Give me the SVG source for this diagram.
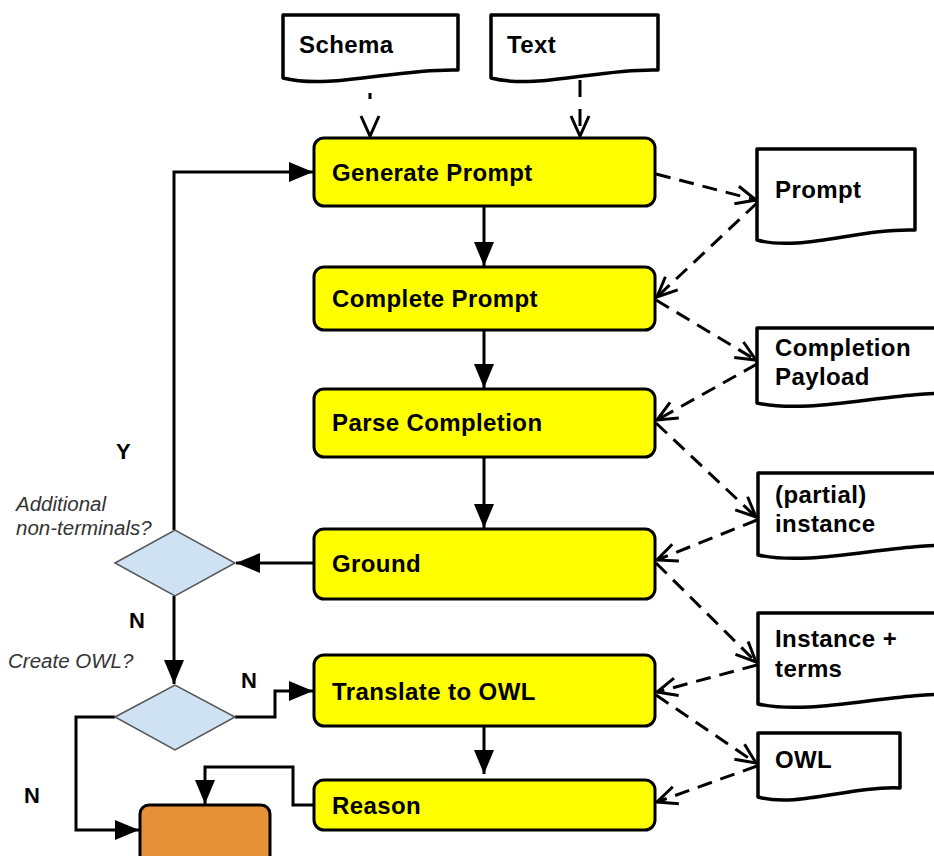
<svg xmlns="http://www.w3.org/2000/svg" width="934" height="856" viewBox="0 0 934 856">
<style>
.box{fill:#ffff00;stroke:#000;stroke-width:3}
.doc{fill:#fff;stroke:#000;stroke-width:3.5;stroke-linejoin:round}
.dia{fill:#cfe2f3;stroke:#555;stroke-width:1.5}
.lbl{font-family:"Liberation Sans",Arial,sans-serif;font-weight:bold;font-size:24px;letter-spacing:0.4px;fill:#000}
.q{font-family:"Liberation Sans",Arial,sans-serif;font-style:italic;font-size:20.5px;fill:#333}
.yn{font-family:"Liberation Sans",Arial,sans-serif;font-weight:bold;font-size:22px;fill:#000}
.solid{fill:none;stroke:#000;stroke-width:3;marker-end:url(#fa)}
.dash{fill:none;stroke:#000;stroke-width:3;stroke-dasharray:15 9;marker-end:url(#oa)}
</style>
<defs>
<marker id="fa" markerUnits="userSpaceOnUse" markerWidth="26" markerHeight="22" viewBox="-24 -10 26 20" refX="0" refY="0" orient="auto">
<path d="M-24,-10 L0,0 L-24,10 Z" fill="#000"/>
</marker>
<marker id="oa" markerUnits="userSpaceOnUse" markerWidth="28" markerHeight="26" viewBox="-24 -12 28 24" refX="0" refY="0" orient="auto">
<path d="M-20,-9 L0,0 L-20,9" fill="none" stroke="#000" stroke-width="3"/>
</marker>
</defs>

<g id="connectors">
<path class="dash" d="M370,93 L370,136" style="stroke-dasharray:6 60"/>
<path class="dash" d="M580,80 L580,136" style="stroke-dasharray:17 12"/>
<path class="solid" d="M484,206 L484,266"/>
<path class="solid" d="M484,330 L484,388"/>
<path class="solid" d="M484,457 L484,528"/>
<path class="solid" d="M484,726 L484,774"/>
<path class="solid" d="M314,563 L236,563"/>
<path class="solid" d="M174,530 L174,172 L313,172"/>
<path class="solid" d="M174,596 L174,684"/>
<path class="solid" d="M235,717 L275,717 L275,691 L313,691"/>
<path class="solid" d="M115,717 L76,717 L76,830 L139,830"/>
<path class="solid" d="M314,805 L293,805 L293,767 L205,767 L205,804"/>
<path class="dash" d="M656,174 L756,200"/>
<path class="dash" d="M757,203 L657,297"/>
<path class="dash" d="M656,300 L756,360"/>
<path class="dash" d="M757,364 L657,420"/>
<path class="dash" d="M656,423 L756,517"/>
<path class="dash" d="M757,520 L657,560"/>
<path class="dash" d="M656,563 L756,662"/>
<path class="dash" d="M757,665 L657,692"/>
<path class="dash" d="M656,695 L756,763"/>
<path class="dash" d="M757,766 L657,802"/>
</g>

<g id="schema">
<path class="doc" d="M283,15 H458 V70 C397,68 330,90 283,78 Z"/>
<text class="lbl" x="299" y="53">Schema</text>
</g>
<g id="text">
<path class="doc" d="M491,15 H658 V70 C600,68 536,90 491,78 Z"/>
<text class="lbl" x="507" y="53">Text</text>
</g>

<g id="generate-prompt">
<rect class="box" x="314" y="138" width="341" height="68" rx="10"/>
<text class="lbl" x="332" y="181">Generate Prompt</text>
</g>
<g id="complete-prompt">
<rect class="box" x="314" y="267" width="341" height="63" rx="10"/>
<text class="lbl" x="332" y="307">Complete Prompt</text>
</g>
<g id="parse-completion">
<rect class="box" x="314" y="389" width="341" height="68" rx="10"/>
<text class="lbl" x="332" y="431">Parse Completion</text>
</g>
<g id="ground">
<rect class="box" x="314" y="529" width="341" height="70" rx="10"/>
<text class="lbl" x="332" y="572">Ground</text>
</g>
<g id="translate">
<rect class="box" x="314" y="655" width="341" height="71" rx="10"/>
<text class="lbl" x="332" y="700">Translate to OWL</text>
</g>
<g id="reason">
<rect class="box" x="314" y="780" width="341" height="50" rx="10"/>
<text class="lbl" x="332" y="814">Reason</text>
</g>

<g id="prompt-doc">
<path class="doc" d="M757,149 H915 V230 C860,228 800,252 757,240 Z"/>
<text class="lbl" x="775" y="198">Prompt</text>
</g>
<g id="completion-payload">
<path class="doc" d="M757,328 H962 V393 C890,391 812,415 757,403 Z"/>
<text class="lbl" x="775" y="356">Completion</text>
<text class="lbl" x="775" y="385">Payload</text>
</g>
<g id="partial-instance">
<path class="doc" d="M758,473 H962 V545 C890,543 813,567 758,555 Z"/>
<text class="lbl" x="775" y="503">(partial)</text>
<text class="lbl" x="775" y="532">instance</text>
</g>
<g id="instance-terms">
<path class="doc" d="M758,613 H962 V694 C890,692 813,716 758,704 Z"/>
<text class="lbl" x="775" y="647">Instance +</text>
<text class="lbl" x="775" y="677">terms</text>
</g>
<g id="owl-doc">
<path class="doc" d="M758,733 H900 V788 C850,786 796,808 758,797 Z"/>
<text class="lbl" x="775" y="768">OWL</text>
</g>

<g id="decision-nonterminals">
<path class="dia" d="M115,563 L175,530 L235,563 L175,596 Z"/>
<text class="q" x="16" y="511">Additional</text>
<text class="q" x="16" y="535">non-terminals?</text>
</g>
<g id="decision-owl">
<path class="dia" d="M115,717 L175,685 L235,717 L175,750 Z"/>
<text class="q" x="8" y="668">Create OWL?</text>
</g>
<g id="end">
<rect x="140" y="805" width="130" height="60" rx="9" fill="#e69138" stroke="#000" stroke-width="3"/>
</g>

<g id="labels">
<text class="yn" x="116" y="459">Y</text>
<text class="yn" x="129" y="628">N</text>
<text class="yn" x="241" y="688">N</text>
<text class="yn" x="24" y="803">N</text>
</g>
</svg>
